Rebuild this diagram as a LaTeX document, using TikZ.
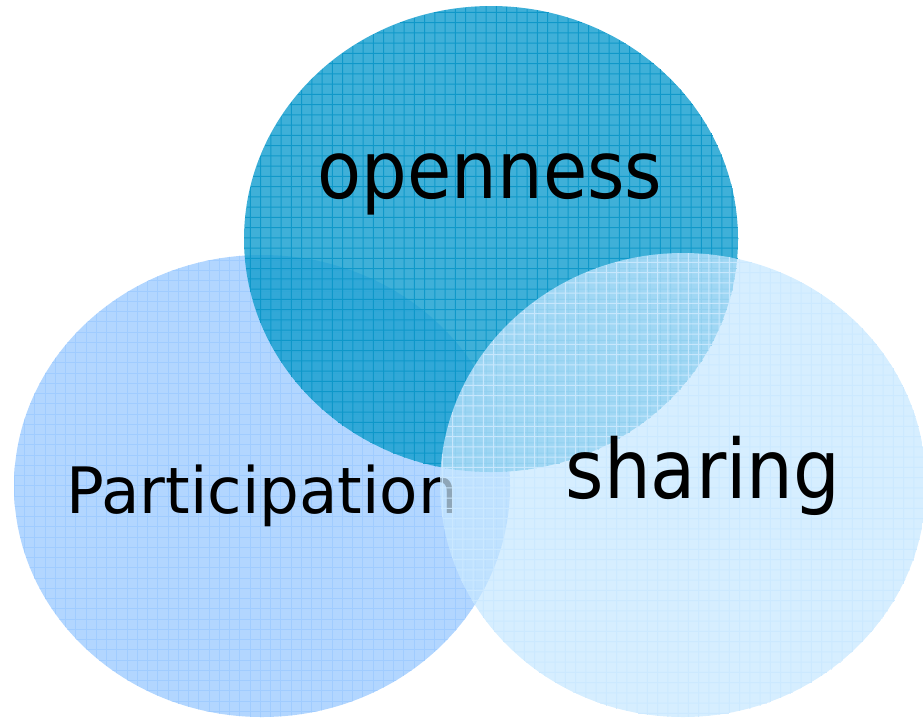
\documentclass[tikz,border=0pt]{standalone}
\usepackage{fontspec}
\newfontfamily\narrowfont[FakeStretch=0.90]{DejaVu Sans}
\newfontfamily\widefont[FakeStretch=0.98]{DejaVu Sans}
\definecolor{partFill}{RGB}{178,214,255}
\definecolor{partLine}{RGB}{160,204,255}
\definecolor{openFill}{RGB}{21,159,207}
\definecolor{openLine}{RGB}{10,150,200}
\definecolor{shareFill}{RGB}{198,231,255}
\definecolor{shareLine}{RGB}{204,233,255}
\begin{document}
\begin{tikzpicture}[x=1pt,y=-1pt,
  gridline/.style={line width=1pt},
  label/.style={inner sep=0pt, anchor=base, text=black}]
\useasboundingbox (0,0) rectangle (923,718);

% Participation (left circle)
\begin{scope}
  \clip (262,486) ellipse [x radius=248, y radius=231];
  \fill[partFill] (0,0) rectangle (923,718);
  \foreach \k in {0,...,52} {
    \draw[gridline, partLine] (\k*10.25+4,240) -- (\k*10.25+4,718);
    \draw[gridline, partLine] (0,\k*10.25+250) -- (520,\k*10.25+250);
  }
\end{scope}
\node[label] (participation) at (262,513) {\widefont\fontsize{64}{70}\selectfont Participation};

% openness (top circle)
\begin{scope}
  \clip (491,239) ellipse [x radius=247, y radius=233];
  \fill[openFill, fill opacity=0.82] (240,0) rectangle (740,475);
  \begin{scope}[opacity=0.9, transparency group]
  \foreach \k in {0,...,49} {
    \draw[gridline, openLine] (\k*10.25+240,0) -- (\k*10.25+240,475);
    \draw[gridline, openLine] (240,\k*10.25+2) -- (740,\k*10.25+2);
  }
  \end{scope}
\end{scope}
\node[label] (openness) at (490,198) {\narrowfont\fontsize{80}{88}\selectfont openness};

% sharing (right circle)
\begin{scope}
  \clip (683,485) ellipse [x radius=243, y radius=232];
  \fill[shareFill, fill opacity=0.72] (430,250) rectangle (923,718);
  \begin{scope}[opacity=0.9, transparency group]
  \foreach \k in {0,...,48} {
    \draw[gridline, shareLine] (\k*10.25+432,250) -- (\k*10.25+432,718);
    \draw[gridline, shareLine] (430,\k*10.25+252) -- (923,\k*10.25+252);
  }
  \end{scope}
\end{scope}
\node[label] (sharing) at (703,498) {\narrowfont\fontsize{82}{90}\selectfont sharing};
\end{tikzpicture}
\end{document}
